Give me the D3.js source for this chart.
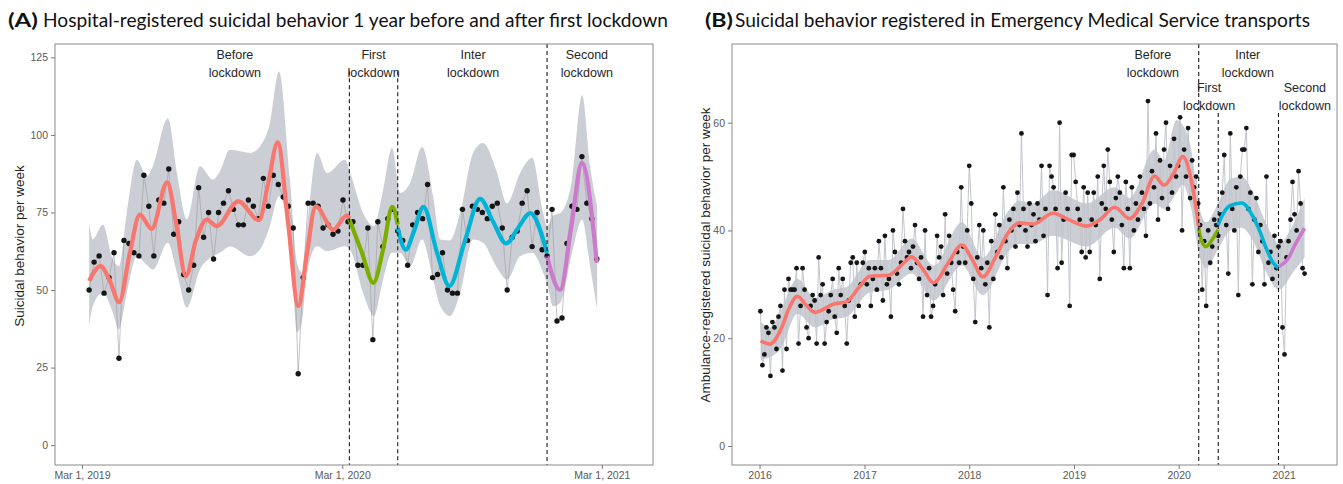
<!DOCTYPE html>
<html><head><meta charset="utf-8">
<script src="https://cdn.jsdelivr.net/npm/d3@7/dist/d3.min.js"></script>
<style>
body{margin:0;background:#fff;}
svg{display:block;font-family:"Liberation Sans",Arial,sans-serif;}
</style></head><body>
<svg id="chart" width="1343" height="484"></svg>
<script>
// ================= DATA =================
// Panel A: hospital-registered, weekly from 2019-03-11
const aStartDate = "2019-03-11";
const aWeekly = [50,59,61,49,54,62,28,66,65,62, 61,87,77,61,79,78,89,68,72,55,
  50,58,83,67,75,60,75,78,82,76, 71,71,79,77,73,86,77,87,84,80,
  77,70,23,54,78,78,77,70,71,68, 69,79,72,72,58,58,70,34,72,64,
  73,76,69,66,58,71,75,73,84,54, 55,62,50,49,49,76,66,77,76,75,
  73,77,78,70,50,67,69,78,82,64, 75,63,61,76,40,41,65,77,76,93,
  78,73,60];
// smooth fits per period (x in weeks since start)
const aBeforeW = [0,2.29,4.16,6.03,8.18,10.19,12.55,15.68,17.43,19.44,21.45,23.6,25.61,29.96,34.12,35.93,37.88,39.95,42.02,43.77,45.52,49.06,51.75,52.29];
const aBeforeV = [52.9,57.7,53,46.1,62,74.3,69.7,84.7,72,54.5,66,72.7,70.6,78.6,72.5,84,97.6,72,44.8,62,77,69.5,74,73];
const aFirstW = [52.29,54.82,57.1,59.05,60.92,62];
const aFirstV = [72.7,62,52.3,63,76.8,71.1];
const aInterW = [62,63.61,65.28,67.15,69.9,72.38,75.53,78.55,81.16,83.78,86.19,88.6,92];
const aInterV = [70,63,69,76.8,62,51.3,66,79.4,72,65,70,74.8,62];
const aSecondW = [92,94.63,96.84,98.99,102];
const aSecondV = [60.9,50,70,91,58.8];
// confidence band
const aBandW = [0,0.74,2.75,4.76,5.97,7.58,9.59,11.6,12.8,15.82,17.63,19.64,22.26,24.87,26.28,28.28,32.3,34.32,36.33,38.14,40.35,41.76,42.77,43.78,45.79,47.8,51.41,52.61,55.03,57.24,59.05,60.86,62.47,64.48,66.89,69.1,70.51,72.52,74.53,77.14,79.15,81.77,83.98,86.59,89.0,91.21,92.02,93.22,94.63,97.04,99.05,100.65,102.06];
const aBandHi = [71.6,66.3,71,59.8,57.7,75,92,86.7,89.9,105.4,87.7,72.7,89.9,85.6,88.3,95.2,94.2,96.3,103.8,120.4,85.6,58.8,55.6,70,94.2,87.7,92,87,74.8,70.6,82,95.8,81.3,84.5,96.1,80.2,66.3,66,74.8,94.2,97.4,88.8,78,87.7,92.6,74.8,70.6,74,74.8,85.6,112.9,89.9,77];
const aBandLo = [38.4,44.8,49.1,42.7,37.3,49.1,60.9,58,56.6,65.2,55.6,44.3,56.6,60.9,62,64,60.9,63,70.6,80.2,66.3,36.3,40,55.6,64.1,62.5,64.1,62.5,49.1,41.6,53.4,62,62,57.7,66.3,53.4,45,41.6,49.1,66.3,65.2,57.7,53.4,60.9,62,55.6,52,44.8,45.9,62,72.7,57.7,43.8];
const aYTicks = [0,25,50,75,100,125];
const aXTicks = ["2019-03-01","2020-03-01","2021-03-01"];
const aXTickLabels = ["Mar 1, 2019","Mar 1, 2020","Mar 1, 2021"];

// Panel B: EMS transports, weekly from 2016-01-04
const bStartDate = "2016-01-04";
const bWeekly = [25,15,17,22,21,13,23,22,18,24, 26,14,29,18,31,29,29,29,33,19,
  26,33,29,22,20,26,28,27,19,35, 28,30,19,23,25,28,31,24,21,33,
  28,31,26,19,27,34,35,24,34,26, 30,34,
  36,30,33,26,31,33,29,38,33,27, 39,30,31,24,40,36,32,30,34,44,
  38,35,36,33,37,41,34,31,35,24, 40,28,33,24,26,30,39,35,37,28,
  43,32,39,34,29,25,36,34,48,37, 34,40,
  52,45,31,23,35,41,33,40,30,34, 22,38,31,43,36,41,35,48,38,33,
  42,40,44,37,47,41,58,44,40,37, 45,41,43,38,45,42,52,39,44,28,
  52,50,48,44,33,60,34,42,47,44, 26,54,
  54,49,44,42,36,48,35,47,36,42, 47,41,50,31,45,52,44,55,49,42,
  36,46,50,47,41,33,49,44,33,48, 40,45,42,50,47,44,39,64,45,51,
  48,58,42,53,46,55,60,44,52,47, 57,50,
  52,61,40,55,50,59,46,53,48,50, 45,41,29,38,26,40,34,37,42,41,
  39,43,47,54,41,32,58,44,40,48, 28,50,55,55,59,44,47,30,42,46,
  36,41,38,30,50,34,36,31,39,33, 37,38,22,17,35,38,42,49,43,40,
  51,45,33,32];
// smooth fits per period (x in decimal years)
const bBeforeY = [2016.01,2016.1,2016.2,2016.28,2016.36,2016.45,2016.53,2016.7,2016.83,2016.95,2017.05,2017.23,2017.35,2017.45,2017.55,2017.66,2017.8,2017.93,2018.03,2018.13,2018.25,2018.37,2018.48,2018.61,2018.8,2018.95,2019.12,2019.25,2019.39,2019.53,2019.65,2019.77,2019.86,2019.95,2020.04,2020.12,2020.19];
const bBeforeV = [19.5,18.9,21.5,25.5,27.8,26,24.8,26.3,26.8,29.5,31.5,31.7,33.5,35.1,33,30.3,34,37.3,34.5,31.4,35,39.5,41.4,41.2,43.2,42,40.8,42,44.3,42.2,45,50.1,48.4,50.5,53.7,49.4,40.8];
const bFirstY = [2020.19,2020.22,2020.26,2020.32,2020.375];
const bFirstV = [40.4,38,37,38.3,40.1];
const bInterY = [2020.375,2020.43,2020.49,2020.6,2020.71,2020.78,2020.84,2020.9,2020.955];
const bInterV = [41,43.3,44.6,45.1,42.5,39.5,36.4,34,33];
const bSecondY = [2020.955,2021.05,2021.1,2021.2];
const bSecondV = [33.3,35,37,40.4];
const bBandY = [2016.01,2016.1,2016.2,2016.36,2016.53,2016.7,2016.83,2017.05,2017.23,2017.45,2017.66,2017.93,2018.13,2018.37,2018.48,2018.61,2018.8,2019.12,2019.39,2019.53,2019.77,2019.86,2019.98,2020.04,2020.12,2020.19,2020.26,2020.375,2020.49,2020.6,2020.71,2020.84,2020.955,2021.1,2021.2];
const bBandLo = [16,16.5,18,24.5,22,23.5,24,28.5,29,32,27,33.5,28,36,37.5,37.5,39,37,40.5,38.5,45,44,47,48.5,44,36,33,36.5,40,40.5,38,32,29,32.5,35];
const bBandHi = [23,22,25,31,27.5,29,29.5,34.5,34.5,38.5,33.5,41.5,35,43.5,45.5,45,47.5,45,48,46,55,53,60.5,59.5,55,45,41.5,45,49.5,50,47,41,37.5,41.5,46];
const bYTicks = [0,20,40,60];
const bXTicks = ["2016-01-01","2017-01-01","2018-01-01","2019-01-01","2020-01-01","2021-01-01"];
const bXTickLabels = ["2016","2017","2018","2019","2020","2021"];

// lockdown boundaries
const lockdownDates = ["2020-03-11","2020-05-18","2020-12-14"];
const periodNames = ["Before","First","Inter","Second"];
const periodColors = ["#F8766D","#7CAE00","#00B4D8","#CC7ACB"];

// ================= HELPERS =================
const DAY = 864e5;
const pd = s => new Date(s + "T00:00:00Z");
const yearToDate = y => { const yr = Math.floor(y); const s = Date.UTC(yr,0,1), e = Date.UTC(yr+1,0,1); return new Date(s + (y-yr)*(e-s)); };
const svg = d3.select("#chart");

function drawPanel(cfg){
  const g = svg.append("g");
  const [x0,x1] = cfg.x.range(), [y1,y0] = cfg.y.range();
  const cid = "clip" + cfg.id;
  svg.append("defs").append("clipPath").attr("id",cid).append("rect")
    .attr("x",x0).attr("y",y0).attr("width",x1-x0).attr("height",y1-y0);
  const inner = g.append("g").attr("clip-path",`url(#${cid})`);
  // band
  inner.append("path").datum(cfg.band)
    .attr("d", d3.area().x(d=>cfg.x(d.t)).y0(d=>cfg.y(d.lo)).y1(d=>cfg.y(d.hi)).curve(d3.curveMonotoneX))
    .attr("fill", cfg.bandFill).attr("stroke","none");
  // connecting line
  inner.append("path").datum(cfg.points)
    .attr("d", d3.line().x(d=>cfg.x(d.t)).y(d=>cfg.y(d.v)))
    .attr("fill","none").attr("stroke",cfg.lineColor).attr("stroke-width",cfg.lineWidth);
  // points
  inner.selectAll("circle").data(cfg.points).join("circle")
    .attr("cx",d=>cfg.x(d.t)).attr("cy",d=>cfg.y(d.v)).attr("r",cfg.r).attr("fill","#151515");
  // fits
  cfg.fits.forEach((f,i)=>{
    inner.append("path").datum(f)
      .attr("d", d3.line().x(d=>cfg.x(d.t)).y(d=>cfg.y(d.v)).curve(d3.curveMonotoneX))
      .attr("fill","none").attr("stroke",periodColors[i]).attr("stroke-width",cfg.fitWidth)
      .attr("stroke-linecap","butt");
  });
  // dashed lock-down lines
  lockdownDates.forEach((s,i)=>{
    const xx = cfg.x(pd(s));
    g.append("line").attr("x1",xx).attr("x2",xx)
      .attr("y1", cfg.lineTop[i]).attr("y2", y1)
      .attr("stroke","#1a1a1a").attr("stroke-width",1.1).attr("stroke-dasharray","4,3");
  });
  // period labels
  cfg.labels.forEach(l=>{
    const t = g.append("text").attr("x",cfg.x(pd(l.date))).attr("text-anchor","middle")
      .attr("font-size",12.5).attr("fill","#262626");
    t.append("tspan").attr("x",cfg.x(pd(l.date))).attr("y",l.y).text(l.name);
    t.append("tspan").attr("x",cfg.x(pd(l.date))).attr("y",l.y+18.3).text("lockdown");
  });
  // frame
  g.append("rect").attr("x",x0).attr("y",y0).attr("width",x1-x0).attr("height",y1-y0)
    .attr("fill","none").attr("stroke","#8a8a8a").attr("stroke-width",1);
  // axes
  const ax = g.append("g").attr("transform",`translate(0,${y1})`)
    .call(d3.axisBottom(cfg.x).tickValues(cfg.xTicks.map(pd)).tickFormat((d,i)=>cfg.xTickLabels[i]).tickSize(4).tickPadding(3));
  const ay = g.append("g").attr("transform",`translate(${x0},0)`)
    .call(d3.axisLeft(cfg.y).tickValues(cfg.yTicks).tickSize(4).tickPadding(3));
  [ax,ay].forEach(a=>{
    a.select(".domain").remove();
    a.selectAll(".tick line").attr("stroke","#7a7a7a");
    a.selectAll(".tick text").attr("fill","#5a5a5a").attr("font-size",10.5)
      .attr("font-family","'Liberation Sans',Arial,sans-serif");
  });
  // y title
  g.append("text").attr("transform",`translate(${cfg.yTitleX},${cfg.yTitleY}) rotate(-90)`)
    .attr("text-anchor","middle").attr("font-size",13.5).attr("fill","#1e1e1e").text(cfg.yTitle);
}

// ================= PANEL A =================
const aStart = pd(aStartDate);
const aW = w => new Date(aStart.getTime() + w*7*DAY);
const xA = d3.scaleUtc().domain([pd("2019-01-22"), pd("2021-05-12")]).range([55,653]);
const yA = d3.scaleLinear().domain([-6.4,129.3]).range([465,44]);
drawPanel({
  id:"A", x:xA, y:yA,
  points: aWeekly.map((v,i)=>({t:aW(i), v})),
  band: aBandW.map((w,i)=>({t:aW(w), lo:aBandLo[i], hi:aBandHi[i]})),
  fits: [[aBeforeW,aBeforeV],[aFirstW,aFirstV],[aInterW,aInterV],[aSecondW,aSecondV]]
        .map(([ws,vs])=>ws.map((w,i)=>({t:aW(w), v:vs[i]}))),
  bandFill:"#cbced5", lineColor:"#9c9c9c", lineWidth:0.6, r:2.7, fitWidth:4.2,
  lineTop:[yA(120.5), yA(120.5), 44],
  labels:[{name:"Before",date:"2019-10-02",y:59},{name:"First",date:"2020-04-14",y:59},
          {name:"Inter",date:"2020-09-01",y:59},{name:"Second",date:"2021-02-08",y:59}],
  xTicks:aXTicks, xTickLabels:aXTickLabels, yTicks:aYTicks,
  yTitle:"Suicidal behavior per week", yTitleX:24, yTitleY:246
});

// ================= PANEL B =================
const bStart = pd(bStartDate);
const bW = k => new Date(bStart.getTime() + k*7*DAY);
const xB = d3.scaleUtc().domain([pd("2015-09-27"), pd("2021-07-06")]).range([732,1337]);
const yB = d3.scaleLinear().domain([-3.53,74.6]).range([465,44]);
drawPanel({
  id:"B", x:xB, y:yB,
  points: bWeekly.map((v,i)=>({t:bW(i), v})),
  band: bBandY.map((y,i)=>({t:yearToDate(y), lo:bBandLo[i], hi:bBandHi[i]})),
  fits: [[bBeforeY,bBeforeV],[bFirstY,bFirstV],[bInterY,bInterV],[bSecondY,bSecondV]]
        .map(([ys,vs])=>ys.map((y,i)=>({t:yearToDate(y), v:vs[i]}))),
  bandFill:"#cbced5", lineColor:"#c2c5cb", lineWidth:1, r:2.4, fitWidth:3.6,
  lineTop:[44, yB(61.8), yB(61.8)],
  labels:[{name:"Before",date:"2019-10-03",y:59},{name:"First",date:"2020-04-16",y:92},
          {name:"Inter",date:"2020-08-29",y:59},{name:"Second",date:"2021-03-16",y:92}],
  xTicks:bXTicks, xTickLabels:bXTickLabels, yTicks:bYTicks,
  yTitle:"Ambulance-registered suicidal behavior per week", yTitleX:710, yTitleY:255
});

// ================= TITLES =================
const titleFont = "Lato, 'Open Sans', sans-serif";
svg.append("text").attr("x",8).attr("y",27).attr("font-family",titleFont).attr("font-weight",700)
  .attr("font-size",19).attr("fill","#111").attr("textLength",30).attr("lengthAdjust","spacingAndGlyphs").text("(A)");
svg.append("text").attr("x",43).attr("y",27).attr("font-family",titleFont)
  .attr("font-size",19).attr("fill","#111").attr("textLength",625).attr("lengthAdjust","spacingAndGlyphs")
  .text("Hospital-registered suicidal behavior 1 year before and after  first lockdown");
svg.append("text").attr("x",705).attr("y",27).attr("font-family",titleFont).attr("font-weight",700)
  .attr("font-size",19).attr("fill","#111").attr("textLength",28).attr("lengthAdjust","spacingAndGlyphs").text("(B)");
svg.append("text").attr("x",735).attr("y",27).attr("font-family",titleFont)
  .attr("font-size",19).attr("fill","#111").attr("textLength",575).attr("lengthAdjust","spacingAndGlyphs")
  .text("Suicidal behavior registered in Emergency Medical Service transports");
</script>
</body></html>
